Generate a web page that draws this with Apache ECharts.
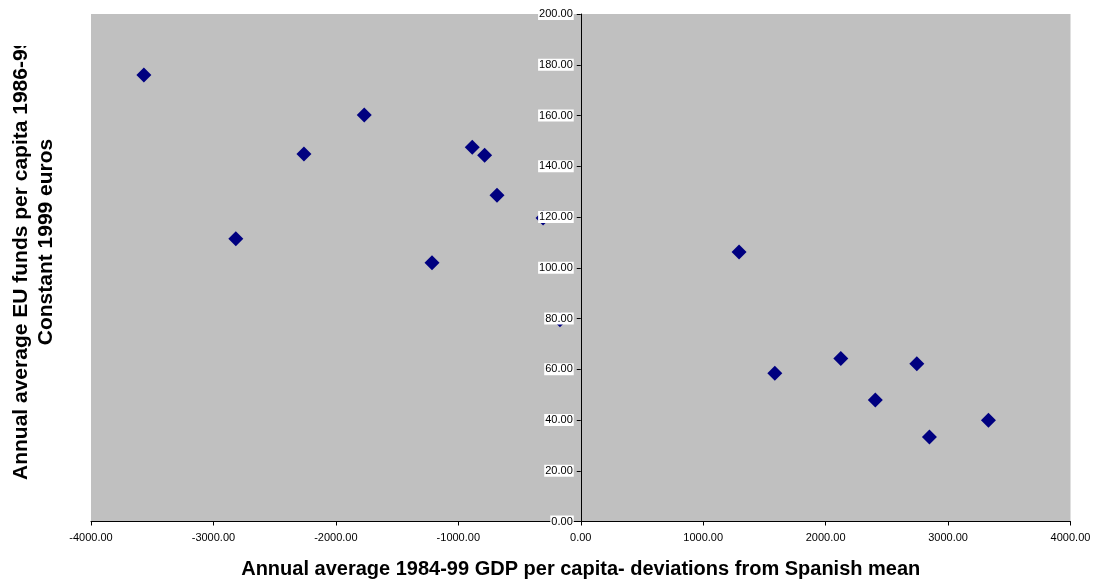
<!DOCTYPE html>
<html>
<head>
<meta charset="utf-8">
<title>EU funds vs GDP per capita</title>
<script src="https://cdn.jsdelivr.net/npm/echarts@6/dist/echarts.min.js"></script>
<style>
  html, body { margin: 0; padding: 0; background: #fff; }
  #chart { width: 1103px; height: 587px; }
</style>
</head>
<body>
<div id="chart"></div>
<script>
// GDP per capita deviation from the Spanish mean (x) and EU funds per capita (y), one pair per region
const gdpDeviation = [-3568, -2817, -2261, -1768, -1215, -886, -785, -684, -308, -170,
                      1293, 1585, 2124, 2406, 2745, 2848, 3330];
const euFunds = [176.0, 111.4, 144.8, 160.2, 102.0, 147.5, 144.3, 128.6, 119.6, 79.5,
                 106.2, 58.4, 64.2, 47.9, 62.2, 33.3, 39.9];

const xAxisTitle = 'Annual average 1984-99 GDP per capita- deviations from Spanish mean';
const yAxisTitle1 = 'Annual average EU funds per capita 1986-99';
const yAxisTitle2 = 'Constant 1999 euros';

const points = gdpDeviation.map((x, i) => [x, euFunds[i]]);
const FONT = '"Liberation Sans", Arial, sans-serif';

const GRID_LEFT = 91, GRID_RIGHT = 32.5;
const X_MIN = -4000, X_MAX = 4000;

const chart = echarts.init(document.getElementById('chart'), null, { renderer: 'canvas' });

// the value axis sits on x = 0, so shift it inward from the grid's left edge
const plotWidth = 1103 - GRID_LEFT - GRID_RIGHT;
const zeroOffset = plotWidth * (0 - X_MIN) / (X_MAX - X_MIN);

chart.setOption({
  animation: false,
  backgroundColor: '#ffffff',
  grid: {
    left: GRID_LEFT, right: GRID_RIGHT, top: 14, bottom: 65.5,
    show: true, backgroundColor: '#C0C0C0', borderWidth: 0
  },
  xAxis: {
    type: 'value', min: X_MIN, max: X_MAX, interval: 1000,
    splitLine: { show: false },
    axisLine: { show: true, onZero: false, lineStyle: { color: '#000', width: 1 } },
    axisTick: { show: true, length: 4, lineStyle: { color: '#000' } },
    axisLabel: {
      margin: 11, color: '#000', fontFamily: FONT, fontSize: 11,
      formatter: v => v.toFixed(2)
    },
    name: xAxisTitle, nameLocation: 'middle', nameGap: 38,
    nameTextStyle: { color: '#000', fontFamily: FONT, fontSize: 20, fontWeight: 'bold' }
  },
  yAxis: {
    type: 'value', min: 0, max: 200, interval: 20,
    position: 'left', offset: -zeroOffset,
    z: 10,
    splitLine: { show: false },
    axisLine: { show: true, onZero: false, lineStyle: { color: '#000', width: 1 } },
    axisTick: { show: true, length: 4, lineStyle: { color: '#000' } },
    axisLabel: {
      margin: 7, color: '#000', fontFamily: FONT, fontSize: 11,
      backgroundColor: '#ffffff', padding: [1, 1, 0, 1],
      formatter: v => v.toFixed(2)
    }
  },
  graphic: [
    {
      type: 'text', x: 21, y: 480, rotation: Math.PI / 2, z: 10,
      style: {
        text: yAxisTitle1, fill: '#000', font: 'bold 21px ' + FONT,
        textAlign: 'left', textVerticalAlign: 'middle'
      }
    },
    {
      type: 'text', x: 46, y: 242, rotation: Math.PI / 2, z: 10,
      style: {
        text: yAxisTitle2, fill: '#000', font: 'bold 21px ' + FONT,
        textAlign: 'center', textVerticalAlign: 'middle'
      }
    },
    {
      type: 'rect', shape: { x: 0, y: 0, width: 60, height: 46 }, z: 20,
      style: { fill: '#ffffff' }
    }
  ],
  series: [{
    type: 'scatter',
    data: points,
    symbol: 'diamond',
    symbolSize: 15,
    itemStyle: { color: '#000080', opacity: 1 },
    z: 1
  }]
});
</script>
</body>
</html>
